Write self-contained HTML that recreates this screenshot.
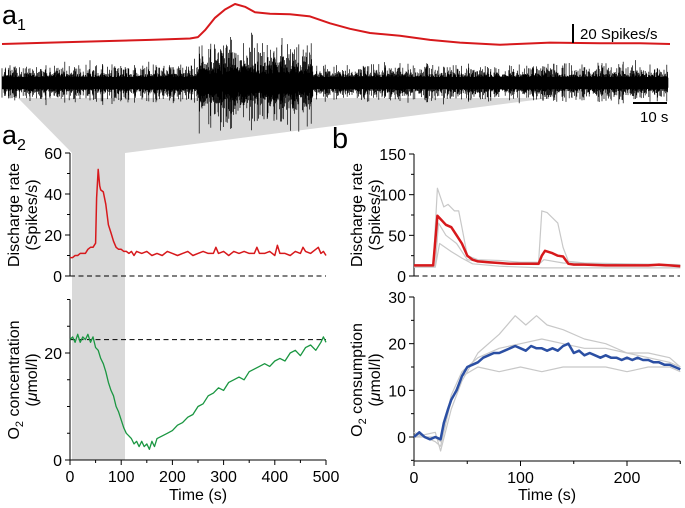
<!DOCTYPE html>
<html><head><meta charset="utf-8"><style>
html,body{margin:0;padding:0;background:#fff}
svg{display:block;font-family:"Liberation Sans",Arial,sans-serif}
</style></head><body>
<svg id="fig" width="685" height="508" viewBox="0 0 685 508">
<polygon points="18,98 550,98 125,153 125,460 72,460 72,153" fill="#d9d9d9"/>
<g id="raw"></g>
<g id="g"></g>
<text x="2" y="24" font-size="27">a<tspan font-size="16" dy="6">1</tspan></text>
<text x="2" y="144" font-size="27">a<tspan font-size="16" dy="6">2</tspan></text>
<text x="332" y="148" font-size="29">b</text>
<line x1="573" y1="24" x2="573" y2="43" stroke="#000" stroke-width="2"/>
<text x="580" y="39" font-size="15">20 Spikes/s</text>
<line x1="633" y1="103" x2="667" y2="103" stroke="#000" stroke-width="2"/>
<text x="640" y="122" font-size="15">10 s</text>
</svg>
<script>
// a1 rate
const a1T=[2,50,100,150,190,198,205,215,225,235,245,255,270,290,310,330,350,370,400,430,460,500,550,600,640,670];
const a1V=[0,1,2,3,4,5,10,19,25,29,27,23,22,21.5,20,15,11,8,6,3,1,-0.5,1,0.5,0.5,0];
// a2 discharge
const a2rT=[0,5,10,15,20,25,30,35,40,45,50,52,55,58,60,65,70,75,80,85,90,95,100,105,110,115,120,125,130,140,150,160,170,180,190,200,210,220,230,240,250,260,270,280,285,290,300,310,320,330,340,350,360,365,370,380,390,400,405,410,420,430,440,450,455,460,470,480,485,490,495,500];
const a2rV=[9,9,10,10,11,11,11,13,14,14,16,38,52,44,42,41,35,25,21,17,14,13,13,12,12,11,12,10,12,11,12,10,11,10,12,11,10,11,12,10,11,12,11,11,14,11,12,10,12,11,12,11,11,14,11,11,12,10,15,11,11,10,12,11,14,12,11,13,14,11,12,10];
// a2 O2 concentration
const a2gT=[0,5,10,15,20,25,30,35,40,45,50,55,60,65,70,75,80,85,90,95,100,105,110,115,120,125,130,135,140,145,150,155,160,165,170,180,190,200,210,220,230,240,250,260,270,280,290,300,310,320,330,340,350,360,370,380,390,400,410,420,430,440,450,460,470,480,490,495,500];
const a2gV=[22.5,23,22,23.5,22,23,22.5,23.5,22,23,21,20.5,19,18,16.5,14.5,13,12,10,9,7.5,6,5,4.5,4,3,3.5,2.5,3.5,2.5,3,2,3.5,2.5,4,4.5,5,5.5,6.5,7,8,8.5,10,10.5,12,12.5,13.5,13,14.5,15,15.5,15,16.5,17,17.5,18,17.5,18.5,19,18.5,20,20.5,19.5,21,21.5,20.5,22,23,22];
// b discharge
const brT=[0,10,18,22,25,30,35,40,45,50,55,60,70,80,90,100,110,117,120,123,130,135,140,145,150,160,180,200,220,230,240,250];
const brV=[13,13,13,74,70,63,60,50,40,25,20,18,17,16,15,15,15,15,25,31,28,25,24,15,14,14,13,13,13,14,13,12];
const bg1T=[0,18,22,28,32,38,42,45,50,60,80,100,117,120,125,135,140,145,160,200,250];
const bg1V=[13,13,108,85,88,80,80,60,25,20,19,17,17,80,78,65,35,18,16,15,14];
const bg2T=[0,20,23,30,40,50,70,117,122,140,250];
const bg2V=[12,12,65,50,40,20,16,14,20,16,12];
const bg3T=[0,20,24,35,45,55,80,120,250];
const bg3V=[11,11,40,30,22,15,12,10,10];
// b O2 consumption
const bbT=[0,5,10,15,20,25,28,32,35,40,45,50,55,60,65,70,75,80,85,90,95,100,105,110,115,120,125,130,135,140,145,150,155,160,165,170,175,180,185,190,195,200,205,210,215,220,225,230,235,240,245,250];
const bbV=[0,1,0,-0.5,0,-0.5,3,6,8,10,13,15,15.5,16,17,17.5,18,18,18.5,19,19.5,19,18.5,19.5,19,19,18.5,19,18.5,19.5,20,18,18.5,17.5,18,17.5,17,17.5,17,17,16.5,17,16.5,17,16.5,16.5,16,16,15.5,15.5,15,14.5];
const bgaT=[0,20,25,35,45,60,80,95,105,115,125,140,160,180,200,220,240,250];
const bgaV=[0,1,-3,6,12,18,22,26,24,26,24,23,21,20,18,17,16,15];
const bgbT=[0,20,25,35,45,60,80,100,120,140,160,180,200,220,240,250];
const bgbV=[1,-1,-2,8,13,15,14,15,14,15,15,15,14,15,15,14];
const bgcT=[0,20,25,35,45,60,80,100,120,140,160,180,200,220,240,250];
const bgcV=[0,0,-1,9,14,17,19,20,21,20,19,19,18,18,17,15];

const NS="http://www.w3.org/2000/svg";
const G=document.getElementById('g');
function lin(d0,d1,r0,r1){return v=>r0+(v-d0)*(r1-r0)/(d1-d0);}
function mk(tag,attrs,parent){const e=document.createElementNS(NS,tag);for(const k in attrs)e.setAttribute(k,attrs[k]);(parent||G).appendChild(e);return e;}
function path(T,V,xs,ys,col,w,name){
  const d=T.map((t,i)=>(i?'L':'M')+xs(t).toFixed(1)+','+ys(V[i]).toFixed(1)).join('');
  const p=mk('path',{d:d,fill:'none',stroke:col,'stroke-width':w,'stroke-linejoin':'round'});
  
  
}
function txt(x,y,s,anchor,size,name,rot){
  const t=mk('text',{x:x,y:y,'font-size':size,'text-anchor':anchor});
  if(rot)t.setAttribute('transform','rotate(-90 '+x+' '+y+')');
  t.innerHTML=s;
  
  
  return t;
}
function yaxis(x,ys,y0,y1,labels,minor,name){
  const a=mk('line',{x1:x,y1:ys(y0),x2:x,y2:ys(y1),stroke:'#000','stroke-width':1});
  
  
  minor.forEach(v=>mk('line',{x1:x-3,x2:x,y1:ys(v),y2:ys(v),stroke:'#000'}));
  labels.forEach(v=>{mk('line',{x1:x-5,x2:x,y1:ys(v),y2:ys(v),stroke:'#000'});txt(x-8,ys(v)+6,v,'end',16,name+'-label');});
}
function xaxis(y,xs,x0,x1,labels,minor,name){
  const a=mk('line',{x1:xs(x0),y1:y,x2:xs(x1),y2:y,stroke:'#000','stroke-width':1});
  
  
  minor.forEach(v=>mk('line',{x1:xs(v),x2:xs(v),y1:y,y2:y+3,stroke:'#000'}));
  labels.forEach(v=>{mk('line',{x1:xs(v),x2:xs(v),y1:y,y2:y+5,stroke:'#000'});txt(xs(v),y+22,v,'middle',16,name+'-label');});
}
function dash(x0,x1,y,name){const l=mk('line',{x1:x0,x2:x1,y1:y,y2:y,stroke:'#000','stroke-dasharray':'5,3.5'});
  }

// a1 rate line
const a1x=v=>v, a1y=lin(0,29,44,4);
path(a1T,a1V,a1x,a1y,'#d7191c',2,'a1-rate-line');

// raw trace (noise texture)
(function(){
  let s=12345;const r=()=>{s=(s*1103515245+12345)%2147483648;return s/2147483648;};
  let d='';
  for(let x=2;x<=668;x+=0.4){
    const burst=x>197&&x<312;
    let a=5+r()*4;
    if(r()<0.4)a=8+r()*9;
    if(burst){a=10+r()*12;if(r()<0.3)a=22+r()*22;}
    else if(r()<0.02)a=16+r()*5;
    const up=a*(0.8+r()*0.4),dn=a*(0.8+r()*0.4);
    d+='M'+x.toFixed(1)+','+(83-up).toFixed(1)+'V'+(83+dn).toFixed(1);
  }
  const p=document.createElementNS(NS,'path');
  p.setAttribute('d',d);p.setAttribute('stroke','#000');p.setAttribute('stroke-width','0.7');
  
  
  document.getElementById('raw').appendChild(p);
  const band=document.createElementNS(NS,'rect');
  band.setAttribute('x','2');band.setAttribute('y','77');band.setAttribute('width','666');band.setAttribute('height','12');band.setAttribute('fill','#000');
  
  
  document.getElementById('raw').appendChild(band);
})();

// a2 panels
const ax=lin(0,500,70,326);
const ary=lin(0,60,276,153);
const agy=lin(0,20,460,353);
yaxis(70,ary,0,60,[0,20,40,60],[10,30,50],'a2-rate-y-axis');
dash(70,326,ary(0),'a2-rate-zero-line');
path(a2rT,a2rV,ax,ary,'#d7191c',1.5,'a2-discharge-line');
yaxis(70,agy,0,30,[0,20],[5,10,15,25,30],'a2-o2-y-axis');
dash(70,326,agy(22.5),'a2-o2-baseline');
path(a2gT,a2gV,ax,agy,'#1a9641',1.3,'a2-o2-line');
xaxis(460,ax,0,500,[0,100,200,300,400,500],[50,150,250,350,450],'a2-x-axis');
txt(198,500,'Time (s)','middle',16,'a2-x-title');
txt(19,215,'Discharge rate','middle',16,'a2-rate-title-1',1);
txt(37,215,'(Spikes/s)','middle',16,'a2-rate-title-2',1);
txt(19,380,'O<tspan font-size="11" dy="4">2</tspan><tspan dy="-4"> concentration</tspan>','middle',16,'a2-o2-title-1',1);
txt(37,380,'(<tspan font-style="italic">μ</tspan>mol/l)','middle',16,'a2-o2-title-2',1);

// b panels
const bx=lin(0,200,414,627);
const bry=lin(0,150,276,154);
const bby=lin(0,30,437,297);
yaxis(414,bry,0,150,[0,50,100,150],[25,75,125],'b-rate-y-axis');
dash(414,680,bry(0),'b-rate-zero-line');
path(bg1T,bg1V,bx,bry,'#c8c8c8',1.2,'b-rate-trial-1');
path(bg2T,bg2V,bx,bry,'#c8c8c8',1.2,'b-rate-trial-2');
path(bg3T,bg3V,bx,bry,'#c8c8c8',1.2,'b-rate-trial-3');
path(brT,brV,bx,bry,'#d7191c',2.5,'b-rate-mean');
yaxis(414,bby,-5,30,[0,10,20,30],[-5,5,15,25],'b-o2-y-axis');
path(bgaT,bgaV,bx,bby,'#c8c8c8',1.2,'b-o2-trial-1');
path(bgbT,bgbV,bx,bby,'#c8c8c8',1.2,'b-o2-trial-2');
path(bgcT,bgcV,bx,bby,'#c8c8c8',1.2,'b-o2-trial-3');
path(bbT,bbV,bx,bby,'#2b4fa3',2.5,'b-o2-mean');
xaxis(461,bx,0,250,[0,100,200],[50,150,250],'b-x-axis');
txt(547,500,'Time (s)','middle',16,'b-x-title');
txt(362,215,'Discharge rate','middle',16,'b-rate-title-1',1);
txt(380,215,'(Spikes/s)','middle',16,'b-rate-title-2',1);
txt(362,380,'O<tspan font-size="11" dy="4">2</tspan><tspan dy="-4"> consumption</tspan>','middle',16,'b-o2-title-1',1);
txt(380,380,'(<tspan font-style="italic">μ</tspan>mol/l)','middle',16,'b-o2-title-2',1);
</script>
</body></html>
